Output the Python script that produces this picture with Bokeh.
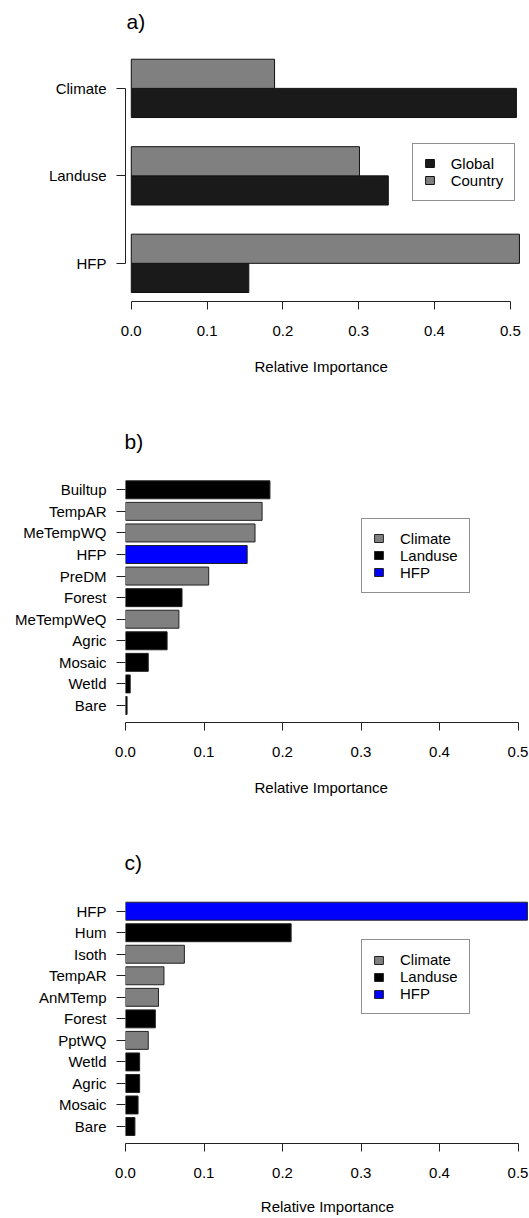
from bokeh.plotting import figure
from bokeh.models import Range1d, FixedTicker, NumeralTickFormatter, Title
from bokeh.layouts import column
from bokeh.embed import file_html
from bokeh.resources import INLINE

# ---------------- data ----------------
a_categories = ["Climate", "Landuse", "HFP"]          # top to bottom
a_global = [0.508, 0.339, 0.155]
a_country = [0.189, 0.301, 0.512]

b_names = ["Builtup", "TempAR", "MeTempWQ", "HFP", "PreDM", "Forest",
           "MeTempWeQ", "Agric", "Mosaic", "Wetld", "Bare"]
b_values = [0.184, 0.174, 0.165, 0.155, 0.106, 0.072, 0.068, 0.053, 0.029, 0.006, 0.002]
b_groups = ["Landuse", "Climate", "Climate", "HFP", "Climate", "Landuse",
            "Climate", "Landuse", "Landuse", "Landuse", "Landuse"]

c_names = ["HFP", "Hum", "Isoth", "TempAR", "AnMTemp", "Forest",
           "PptWQ", "Wetld", "Agric", "Mosaic", "Bare"]
c_values = [0.512, 0.211, 0.075, 0.049, 0.042, 0.038, 0.029, 0.018, 0.018, 0.016, 0.012]
c_groups = ["HFP", "Landuse", "Climate", "Climate", "Climate", "Landuse",
            "Climate", "Landuse", "Landuse", "Landuse", "Landuse"]

x_ticks = [0.0, 0.1, 0.2, 0.3, 0.4, 0.5]
legend_groups = ["Climate", "Landuse", "HFP"]
group_colors = {"Climate": "#808080", "Landuse": "#000000", "HFP": "#0000ff"}
panel_titles = ["a)", "b)", "c)"]
x_title = "Relative Importance"

# ---------------- style ----------------
W = 529
FONT = "Liberation Sans"
TXT = "#000000"
AXC = "#222222"


def base_style(p):
    p.xgrid.visible = False
    p.ygrid.visible = False
    p.outline_line_color = None
    p.background_fill_color = "white"
    p.border_fill_color = "white"
    xa = p.xaxis[0]
    xa.ticker = FixedTicker(ticks=x_ticks)
    xa.formatter = NumeralTickFormatter(format="0.0")
    xa.bounds = (x_ticks[0], x_ticks[-1])
    xa.axis_line_color = AXC
    xa.major_tick_line_color = AXC
    xa.major_tick_out = 8
    xa.major_tick_in = 0
    xa.minor_tick_out = 0
    xa.minor_tick_in = 0
    xa.major_label_standoff = 16
    xa.major_label_text_font = FONT
    xa.major_label_text_font_size = "15px"
    xa.major_label_text_color = TXT
    ya = p.yaxis[0]
    ya.major_tick_line_color = AXC
    ya.major_tick_out = 9
    ya.major_tick_in = 0
    ya.minor_tick_out = 0
    ya.minor_tick_in = 0
    ya.major_label_standoff = 10
    ya.major_label_text_font = FONT
    ya.major_label_text_font_size = "15px"
    ya.major_label_text_color = TXT


def style_legend(p, loc, pad):
    lg = p.legend[0]
    lg.location = loc
    lg.margin = 0
    lg.padding = pad
    lg.spacing = 0
    lg.label_height = 17
    lg.glyph_width = 11
    lg.glyph_height = 10
    lg.label_standoff = 16
    lg.label_text_font = FONT
    lg.label_text_font_size = "15px"
    lg.label_text_color = TXT
    lg.border_line_color = AXC
    lg.border_line_width = 1
    lg.background_fill_color = "white"
    lg.background_fill_alpha = 1.0


def add_titles(p, title, title_offset, title_standoff, xt_standoff, as_axis_label=False):
    p.add_layout(Title(text=title, align="left", offset=title_offset, standoff=title_standoff,
                       text_font=FONT, text_font_size="21px", text_font_style="normal",
                       text_color=TXT), "above")
    if as_axis_label:
        xa = p.xaxis[0]
        xa.axis_label = x_title
        xa.axis_label_standoff = xt_standoff
        xa.axis_label_text_font = FONT
        xa.axis_label_text_font_size = "15px"
        xa.axis_label_text_font_style = "normal"
        xa.axis_label_text_color = TXT
    else:
        p.add_layout(Title(text=x_title, align="left", offset=129, standoff=xt_standoff,
                           text_font=FONT, text_font_size="15px", text_font_style="normal",
                           text_color=TXT), "below")


# ---------------- panel a ----------------
def xa_(px):
    return (px - 129.8) / 760.0


def ya_(py):
    return 1 + (292.0 - py) / 29.16


A_TOP = 37
pa = figure(width=W, height=400, output_backend="svg", toolbar_location=None,
            x_range=Range1d(xa_(124), xa_(529)), y_range=Range1d(ya_(301), ya_(A_TOP)),
            min_border_left=124, min_border_right=0, min_border_top=A_TOP, min_border_bottom=99)
na = len(a_categories)
ks = [na - 1 - i for i in range(na)]
pa.hbar(y=[1.5 + 3 * k for k in ks], left=0, right=a_global, height=1,
        fill_color="#1a1a1a", line_color="#111111", line_width=1, legend_label="Global")
pa.hbar(y=[2.5 + 3 * k for k in ks], left=0, right=a_country, height=1,
        fill_color="#808080", line_color="#111111", line_width=1, legend_label="Country")
base_style(pa)
a_ticks = [2 + 3 * k for k in ks]
pa.yaxis[0].ticker = FixedTicker(ticks=a_ticks)
pa.yaxis[0].major_label_overrides = {t: c for t, c in zip(a_ticks, a_categories)}
pa.yaxis[0].bounds = (min(a_ticks), max(a_ticks))
pa.yaxis[0].axis_line_color = AXC
style_legend(pa, (410.7 - 124, 301 - 200.7), 11)
add_titles(pa, panel_titles[0], 1, 10, 34)


# ---------------- panels b, c ----------------
def make_panel(names, values, groups, height, top, bottom_page, page0, bare_page, pitch,
               legend_bottom, title, title_standoff, xt_standoff, as_axis_label):
    def xb(px):
        return (px - 125.0) / 785.0

    def yb(py):
        return (bare_page - py) / pitch

    frame_top = page0 + top
    p = figure(width=W, height=height, output_backend="svg", toolbar_location=None,
               x_range=Range1d(0, xb(529)), y_range=Range1d(yb(bottom_page), yb(frame_top)),
               min_border_left=125, min_border_right=0, min_border_top=top,
               min_border_bottom=height - (bottom_page - page0))
    n = len(names)
    pos = [n - 1 - i for i in range(n)]
    for g in legend_groups:
        idx = [i for i, gg in enumerate(groups) if gg == g]
        p.hbar(y=[pos[i] for i in idx], left=0, right=[values[i] for i in idx],
               height=1 / 1.2, fill_color=group_colors[g], line_color="#222222",
               line_width=1, legend_label=g)
    base_style(p)
    p.yaxis[0].ticker = FixedTicker(ticks=pos)
    p.yaxis[0].major_label_overrides = {k: nm for k, nm in zip(pos, names)}
    p.yaxis[0].axis_line_color = None
    style_legend(p, (361 - 125, bottom_page - legend_bottom), 11)
    add_titles(p, title, -1, title_standoff, xt_standoff, as_axis_label)
    return p


pb = make_panel(b_names, b_values, b_groups, 420, 60, 722, 400, 705.0, 21.57,
                592.7, panel_titles[1], 16, 34, False)
pc = make_panel(c_names, c_values, c_groups, 398, 60, 1143, 820, 1126.0, 21.53,
                1014.4, panel_titles[2], 14, 17, True)

layout = column(pa, pb, pc, spacing=0)
open("out.html", "w").write(file_html(layout, INLINE))
